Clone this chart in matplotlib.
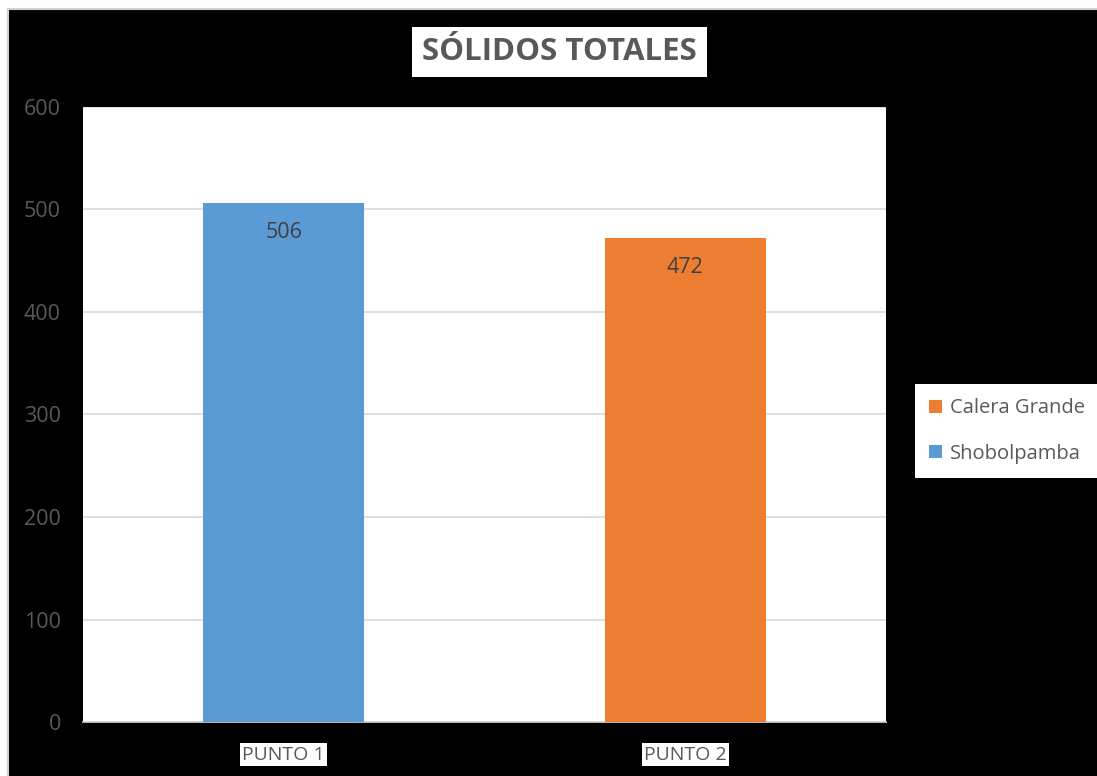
import matplotlib.pyplot as plt
from matplotlib.patches import Rectangle

# datos del gráfico
categorias = ['PUNTO 1', 'PUNTO 2']
series = ['Shobolpamba', 'Calera Grande']
valores = [506, 472]
colores = ['#5B9BD5', '#ED7D31']

plt.rcParams['font.family'] = ['Open Sans', 'DejaVu Sans']

fig = plt.figure(figsize=(10.97, 7.76), dpi=100, facecolor='white')

# fondo negro con borde gris (solo se ve arriba y a la izquierda)
fondo = Rectangle((8 / 1097, -0.05), 1.1, 1.05 - 9 / 776,
                  transform=fig.transFigure, facecolor='black',
                  edgecolor='#d0d0d0', linewidth=1.5, zorder=-10)
fig.patches.append(fondo)

ax = fig.add_axes([83 / 1097, 54 / 776, 803 / 1097, 615 / 776])
ax.set_facecolor('white')
ax.set_zorder(1)

x = range(len(categorias))
for i, (nombre, val, col) in enumerate(zip(series, valores, colores)):
    ax.bar(i, val, width=0.4, color=col, label=nombre, zorder=3)
    ax.annotate(str(val), (i, val), xytext=(0, -21), textcoords='offset points',
                ha='center', va='center', fontsize=15.5, color='#404040', zorder=4)

ax.set_xlim(-0.5, 1.5)
ax.set_ylim(0, 600)
ax.set_yticks(range(0, 601, 100))
ax.yaxis.grid(True, color='#d9d9d9', linewidth=1.2, zorder=0)
ax.set_axisbelow(True)

for lado in ['top', 'right', 'left']:
    ax.spines[lado].set_visible(False)
ax.spines['bottom'].set_color('#d9d9d9')
ax.spines['bottom'].set_linewidth(1.2)

ax.tick_params(axis='y', length=0, pad=16, labelsize=15.5, labelcolor='#595959')
ax.tick_params(axis='x', length=0, pad=17, labelsize=14, labelcolor='#595959')
ax.set_xticks(list(x))
ax.set_xticklabels(categorias)
for t in ax.get_xticklabels():
    t.set_bbox(dict(facecolor='white', edgecolor='none', pad=1.5))

fig.text(559.5 / 1097, 1 - 52 / 776, 'SÓLIDOS TOTALES', ha='center', va='center',
         fontsize=22.5, fontweight='bold', color='#595959',
         bbox=dict(facecolor='white', edgecolor='none', pad=7))

# leyenda en orden inverso
h, l = ax.get_legend_handles_labels()
leg = fig.legend(h[::-1], l[::-1], loc='center left',
                 bbox_to_anchor=(915 / 1097, 1 - 431 / 776),
                 frameon=True, fancybox=False, fontsize=14.5,
                 handlelength=0.65, handleheight=0.65, handletextpad=0.4,
                 labelspacing=1.25, borderpad=0.7, borderaxespad=0,
                 labelcolor='#595959')
leg.get_frame().set_facecolor('white')
leg.get_frame().set_edgecolor('none')
leg.get_frame().set_alpha(1)

fig.savefig('out.png', dpi=100, facecolor='white')
